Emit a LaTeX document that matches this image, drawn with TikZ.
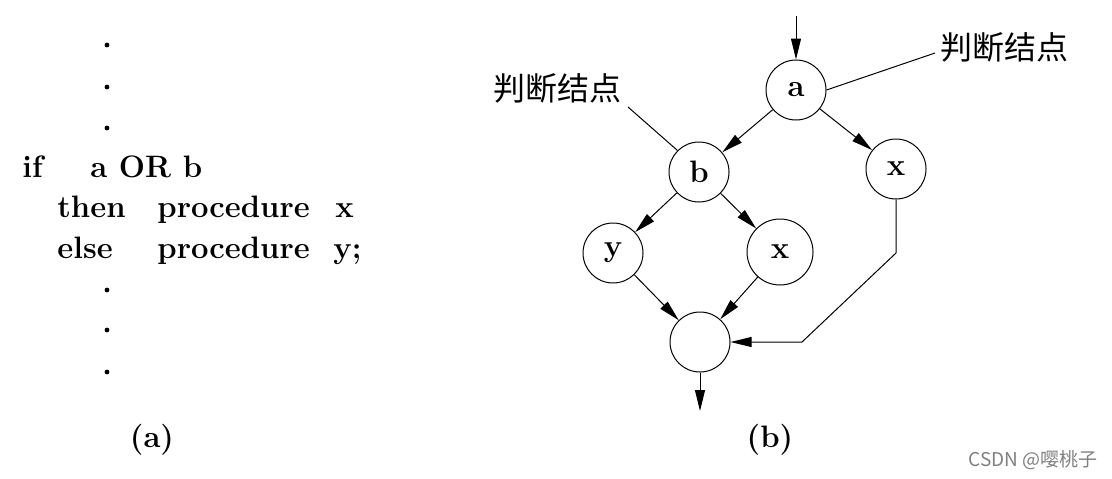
\documentclass[tikz,border=0pt]{standalone}
\usepackage{fontspec}
\newfontfamily\cjk{Noto Sans CJK SC}
\usetikzlibrary{arrows.meta}

\tikzset{
  code/.style={anchor=base west,inner sep=0pt,font=\fontsize{15.5}{18}\bfseries},
  circ/.style={circle,draw,line width=0.5pt,minimum size=30pt,inner sep=0pt,font=\fontsize{15.5}{18}\bfseries},
  flow/.style={line width=0.5pt,-{Triangle[length=10.5pt,width=5pt]}},
  note/.style={inner sep=0pt,font=\fontsize{16}{18}\cjk}
}

\begin{document}
\begin{tikzpicture}[x=0.5pt,y=-0.5pt]
    \useasboundingbox (0,0) rectangle (1112,478);

    % (a) program text
    \foreach \y in {45,87,128,290,330,372}
        \fill (107,\y) circle (1.2pt);
    \node[code] (if) at (22,177) {if};
    \node[code] (cond) at (90,177) {a OR b};
    \node[code] (then) at (57,217) {then};
    \node[code] (px) at (157,217) {procedure};
    \node[code] (x1) at (335,217) {x};
    \node[code] (else) at (57,258) {else};
    \node[code] (py) at (157,258) {procedure};
    \node[code] (y1) at (333,258) {y;};
    \node[code,anchor=center] (capa) at (152,440) {(a)};

    % (b) flow graph
    \node[circ] (a) at (796,90) {a};
    \node[circ] (b) at (699,172) {b};
    \node[circ] (x) at (896,169) {x};
    \node[circ] (y) at (613,253) {y};
    \node[circ,minimum size=33pt] (x2) at (780,252) {x};
    \node[circ] (m) at (700,342) {};
    \coordinate (in) at (796,16);
    \coordinate (out) at (700,411);
    \coordinate (bend1) at (896,253);
    \coordinate (bend2) at (802,342);

    \draw[flow] (in) -- (a);
    \draw[flow] (a) -- (b);
    \draw[flow] (a) -- (x);
    \draw[flow] (b) -- (y);
    \draw[flow] (b) -- (x2);
    \draw[flow] (y) -- (m);
    \draw[flow] (x2) -- (m);
    \draw[flow] (x) -- (bend1) -- (bend2) -- (m);
    \draw[flow] (m) -- (out);

    \node[note] (labb) at (557,88) {判断结点};
    \node[note] (laba) at (1004,47) {判断结点};
    \coordinate (lb) at (628,107);
    \coordinate (la) at (935,53);
    \draw[line width=0.5pt] (lb) -- (b.135);
    \draw[line width=0.5pt] (la) -- (a.east);

    \node[code,anchor=center] (capb) at (770,440) {(b)};
    \node[inner sep=0pt,text=gray,font=\fontsize{9.5}{11}\cjk] (mark) at (1033,460) {CSDN @嘤桃子};
\end{tikzpicture}
\end{document}
